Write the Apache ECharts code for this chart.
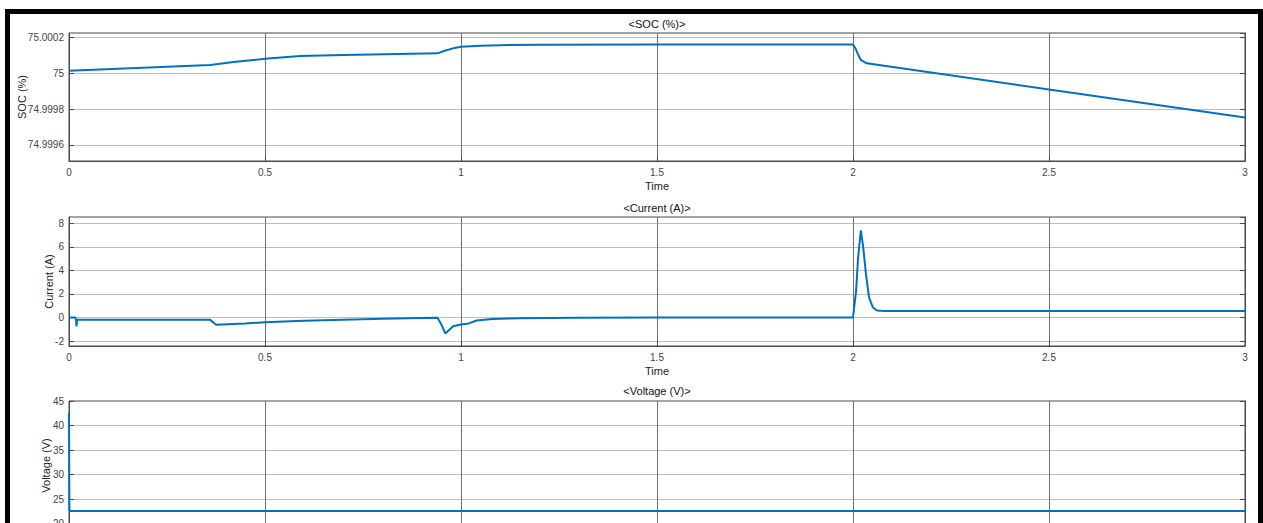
<!DOCTYPE html>
<html>
<head>
<meta charset="utf-8">
<script src="https://cdn.jsdelivr.net/npm/echarts@6/dist/echarts.min.js"></script>
<style>
html,body{margin:0;padding:0;background:#fff;}
#c{width:1263px;height:523px;}
</style>
</head>
<body>
<div id="c"></div>
<script>
// ---- data ----
const socTime  = [0, 0.36, 0.38, 0.42, 0.5, 0.59, 0.7, 0.84, 0.94, 0.96, 0.98, 1.0, 1.05, 1.1, 1.2, 1.5, 2.0, 2.005, 2.012, 2.02, 2.035, 2.5, 3.0];
const socValue = [75.0000146, 75.0000465, 75.000052, 75.000063, 75.0000818, 75.0000966, 75.0001025, 75.000108, 75.000112,
                  75.000128, 75.00014, 75.000149, 75.000155, 75.000158, 75.00016, 75.000161, 75.000161, 75.000145, 75.00011,
                  75.000075, 75.000056, 74.99991, 74.999753];

const currentTime  = [0, 0.016, 0.018, 0.019, 0.021, 0.36, 0.375, 0.45, 0.5, 0.6, 0.7, 0.8, 0.9, 0.94, 0.95, 0.96, 0.98, 1.0, 1.02,
                      1.04, 1.08, 1.15, 1.3, 1.5, 2.0, 2.008, 2.013, 2.02, 2.026, 2.033, 2.041, 2.051, 2.061, 2.08, 3.0];
const currentValue = [0, 0, -0.2, -0.75, -0.2, -0.2, -0.62, -0.5, -0.4, -0.28, -0.18, -0.1, -0.05, -0.03, -0.6, -1.35, -0.75, -0.6, -0.5,
                      -0.25, -0.12, -0.07, -0.03, 0, 0, 2.3, 5.1, 7.4, 6.0, 3.7, 1.7, 0.85, 0.6, 0.55, 0.55];

const voltageTime  = [0, 0.001, 3];
const voltageValue = [42.6, 22.6, 22.6];

const titles = ['<SOC (%)>', '<Current (A)>', '<Voltage (V)>'];
const yNames = ['SOC (%)', 'Current (A)', 'Voltage (V)'];
const xName = 'Time';
const xRange = [0, 3];
const xStep = 0.5;
const yRanges = [[74.999509, 75.000226], [-2.42, 8.54], [18.75, 45]];
const ySplits = [4, 5, 5];
const showTopLabel = [false, false, true];
// the third panel's x labels and name fall below the visible window in the reference
const showXText = [true, true, false];

// ---- layout / style ----
const FONT = 'Liberation Sans, Arial, Helvetica, sans-serif';
const gridTops = [33, 217, 401];
const gridH = [128, 129, 129];
const plotLeft = 69, plotW = 1176;
const nameGaps = [42, 15, 18];
const titleY = [18, 202, 385];
const lineColor = '#0072BD';

const pairs = (xs, ys) => xs.map((x, i) => [x, ys[i]]);
const seriesData = [pairs(socTime, socValue), pairs(currentTime, currentValue), pairs(voltageTime, voltageValue)];

const grids = [], xAxes = [], yAxes = [], series = [], titleOpts = [];
for (let i = 0; i < 3; i++) {
  grids.push({left: plotLeft, top: gridTops[i], width: plotW, height: gridH[i],
              containLabel: false, outerBoundsMode: 'none',
              show: true, borderColor: '#4a4a4a', borderWidth: 1, backgroundColor: '#fff'});
  xAxes.push({
    type: 'value', gridIndex: i, min: xRange[0], max: xRange[1], interval: xStep,
    name: showXText[i] ? xName : '', nameLocation: 'middle', nameGap: 19, nameMoveOverlap: false,
    nameTextStyle: {fontFamily: FONT, fontSize: 11, color: '#222'},
    axisLine: {show: true, onZero: false, lineStyle: {color: '#4a4a4a'}},
    axisTick: {show: true, inside: true, length: 5, lineStyle: {color: '#4a4a4a'}},
    axisLabel: {show: showXText[i], fontFamily: FONT, fontSize: 10, color: '#444', margin: 6},
    splitLine: {show: true, lineStyle: {color: '#707070', width: 1}}
  });
  const [mn, mx] = yRanges[i];
  yAxes.push({
    type: 'value', gridIndex: i, position: 'left', min: mn, max: mx, splitNumber: ySplits[i],
    name: yNames[i], nameLocation: 'middle', nameGap: nameGaps[i], nameMoveOverlap: false,
    nameTextStyle: {fontFamily: FONT, fontSize: 11, color: '#222'},
    axisLine: {show: true, onZero: false, lineStyle: {color: '#4a4a4a'}},
    axisTick: {show: true, inside: true, length: 5, lineStyle: {color: '#4a4a4a'}},
    axisLabel: {fontFamily: FONT, fontSize: 10, color: '#444', margin: 5, showMinLabel: false, showMaxLabel: showTopLabel[i]},
    splitLine: {show: true, showMinLine: false, showMaxLine: false, lineStyle: {color: '#bdbdbd', width: 1}}
  });
  yAxes.push({
    type: 'value', gridIndex: i, position: 'right', min: mn, max: mx, splitNumber: ySplits[i],
    axisLine: {show: true, onZero: false, lineStyle: {color: '#4a4a4a'}},
    axisTick: {show: true, inside: true, length: 5, lineStyle: {color: '#4a4a4a'}},
    axisLabel: {show: false},
    splitLine: {show: false}
  });
  series.push({
    type: 'line', xAxisIndex: i, yAxisIndex: 2 * i, data: seriesData[i],
    showSymbol: false, smooth: false, clip: true,
    lineStyle: {color: lineColor, width: 2}, itemStyle: {color: lineColor}
  });
  titleOpts.push({
    text: titles[i], left: plotLeft + plotW / 2, top: titleY[i], textAlign: 'center', padding: 0,
    textStyle: {fontFamily: FONT, fontSize: 11, fontWeight: 'normal', color: '#111'}
  });
}

const chart = echarts.init(document.getElementById('c'), null, {renderer: 'svg'});
chart.setOption({
  animation: false,
  backgroundColor: '#fff',
  title: titleOpts,
  grid: grids,
  xAxis: xAxes,
  yAxis: yAxes,
  series: series,
  graphic: [{
    type: 'rect', silent: true, z: 100,
    shape: {x: 7.5, y: 11.5, width: 1253, height: 560},
    style: {fill: 'none', stroke: '#000', lineWidth: 5}
  }]
});
</script>
</body>
</html>
